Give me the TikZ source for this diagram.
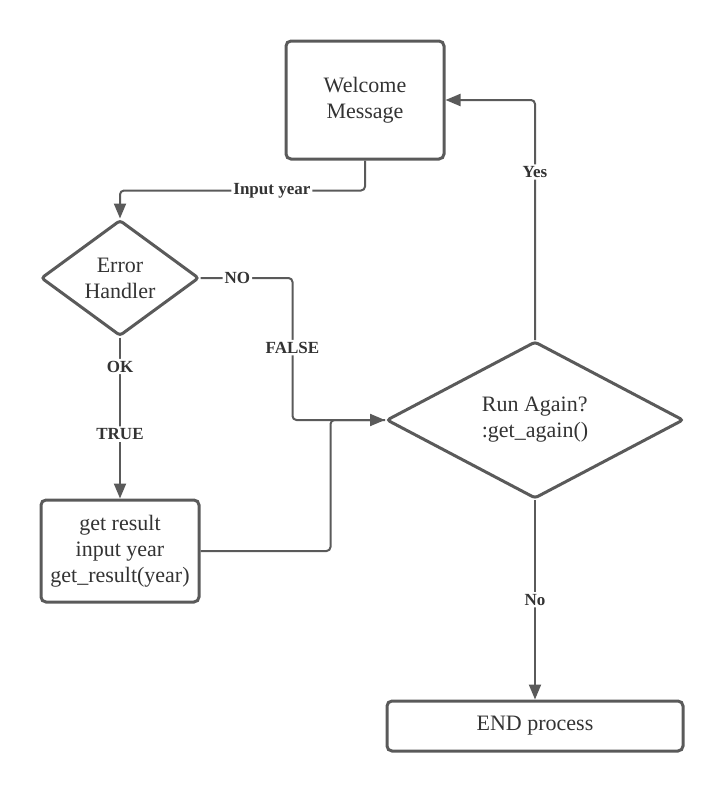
\documentclass[tikz,border=0pt]{standalone}
\usepackage{fontspec}
\setmainfont{Liberation Serif}
\usetikzlibrary{shapes.geometric, arrows.meta}

\definecolor{linegray}{HTML}{5A5A5A}
\definecolor{textgray}{HTML}{333333}

\tikzset{
  box/.style={draw=linegray, line width=1.5pt, rounded corners=2.5pt, text=textgray,
    align=center, inner sep=0pt, font=\fontsize{11}{13}\selectfont},
  decision/.style={box, diamond, rounded corners=1.5pt},
  conn/.style={draw=linegray, line width=1pt, rounded corners=2pt,
    -{Triangle[length=7.5pt, width=6pt]}},
  link/.style={draw=linegray, line width=1pt, rounded corners=2pt},
  lbl/.style={fill=white, text=textgray, inner sep=1pt,
    font=\fontsize{8.5}{10}\selectfont\bfseries}
}

\begin{document}
\begin{tikzpicture}[x=0.5pt, y=-0.5pt]
  \useasboundingbox (0, 0) rectangle (725, 793);

  % blocs
  \node[box, minimum width=79pt, minimum height=59pt] (welcome) at (365, 100) {Welcome\\Message};
  \node[decision, aspect=1.35, minimum width=79pt, minimum height=58pt] (error) at (120, 278) {Error\\Handler};
  \node[box, minimum width=79pt, minimum height=51pt] (result) at (120, 551) {get result\\input year\\get\_result(year)};
  \node[decision, aspect=2, minimum width=148.5pt, minimum height=78.5pt, align=left] (run) at (535, 420) {Run Again?\\:get\_again()};
  \node[box, minimum width=148pt, minimum height=25pt] (end) at (535, 726) {END process};

  % liaisons
  \draw[conn] (welcome.south) -- ++(0, 30) -| node[lbl, pos=0.19] {Input year} (error.north);
  \draw[conn] (error.east) -- node[lbl, pos=0.4] {NO} ++(92, 0) |- node[lbl, pos=0.245] {FALSE} (run.west);
  \draw[conn] (error.south) -- node[lbl, pos=0.18] {OK} node[lbl, pos=0.6] {TRUE} (result.north);
  \draw[link] (result.east) -- ++(130, 0) |- (run.west);
  \draw[conn] (run.north) |- node[lbl, pos=0.35] {Yes} (welcome.east);
  \draw[conn] (run.south) -- node[lbl] {No} (end.north);
\end{tikzpicture}
\end{document}
